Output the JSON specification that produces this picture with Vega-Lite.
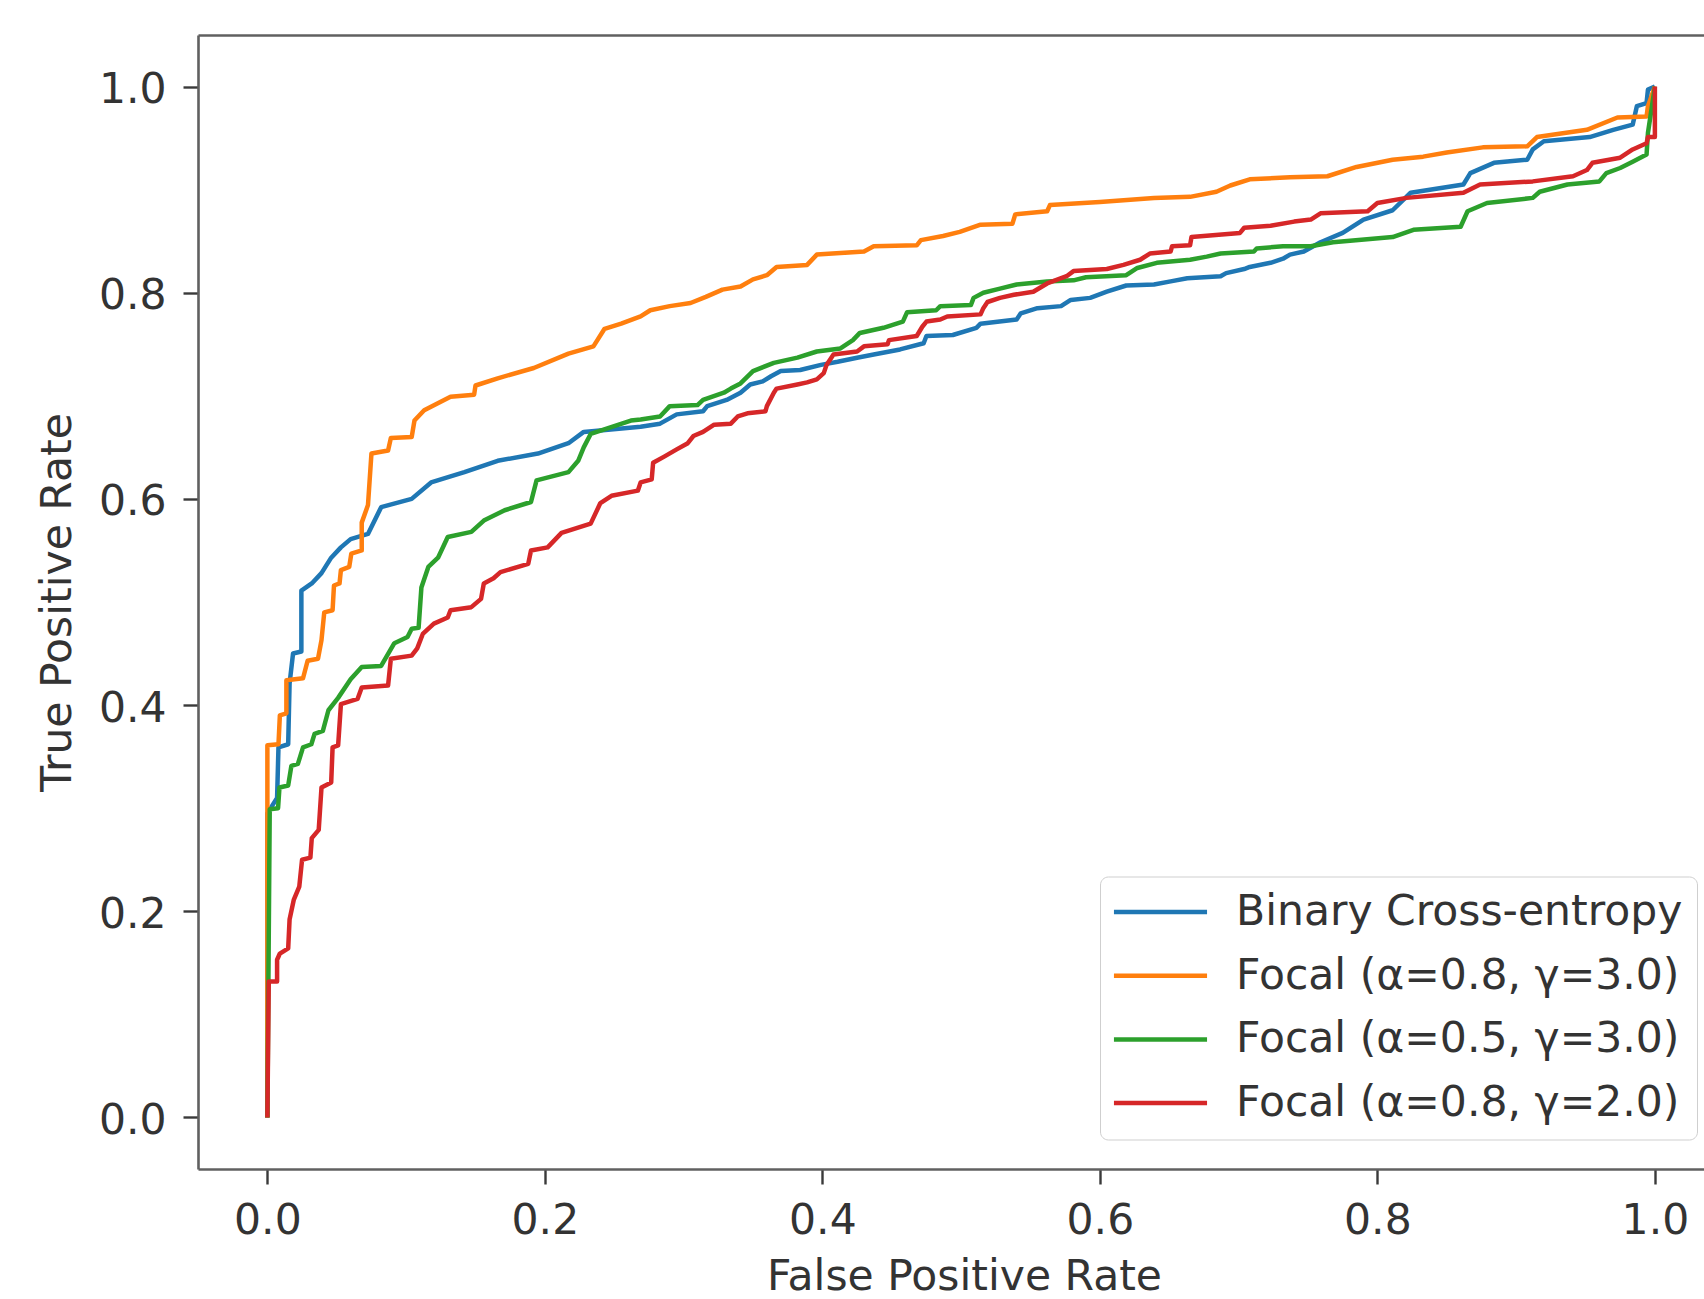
{
  "$schema": "https://vega.github.io/schema/vega-lite/v6.json",
  "autosize": {"type": "none"},
  "width": 1506,
  "height": 1134,
  "padding": {"left": 198, "top": 35, "right": 0, "bottom": 130},
  "background": "white",
  "datasets": {
    "roc": [
      {"model":"Binary Cross-entropy","fpr":0,"tpr":0},
      {"model":"Binary Cross-entropy","fpr":0,"tpr":0.295},
      {"model":"Binary Cross-entropy","fpr":0.007,"tpr":0.31},
      {"model":"Binary Cross-entropy","fpr":0.008,"tpr":0.359},
      {"model":"Binary Cross-entropy","fpr":0.015,"tpr":0.362},
      {"model":"Binary Cross-entropy","fpr":0.016,"tpr":0.421},
      {"model":"Binary Cross-entropy","fpr":0.0185,"tpr":0.45},
      {"model":"Binary Cross-entropy","fpr":0.0245,"tpr":0.452},
      {"model":"Binary Cross-entropy","fpr":0.0245,"tpr":0.511},
      {"model":"Binary Cross-entropy","fpr":0.032,"tpr":0.518},
      {"model":"Binary Cross-entropy","fpr":0.039,"tpr":0.528},
      {"model":"Binary Cross-entropy","fpr":0.046,"tpr":0.543},
      {"model":"Binary Cross-entropy","fpr":0.053,"tpr":0.553},
      {"model":"Binary Cross-entropy","fpr":0.06,"tpr":0.561},
      {"model":"Binary Cross-entropy","fpr":0.0725,"tpr":0.566},
      {"model":"Binary Cross-entropy","fpr":0.082,"tpr":0.592},
      {"model":"Binary Cross-entropy","fpr":0.104,"tpr":0.6},
      {"model":"Binary Cross-entropy","fpr":0.118,"tpr":0.616},
      {"model":"Binary Cross-entropy","fpr":0.142,"tpr":0.626},
      {"model":"Binary Cross-entropy","fpr":0.166,"tpr":0.637},
      {"model":"Binary Cross-entropy","fpr":0.195,"tpr":0.644},
      {"model":"Binary Cross-entropy","fpr":0.217,"tpr":0.654},
      {"model":"Binary Cross-entropy","fpr":0.228,"tpr":0.665},
      {"model":"Binary Cross-entropy","fpr":0.269,"tpr":0.67},
      {"model":"Binary Cross-entropy","fpr":0.283,"tpr":0.673},
      {"model":"Binary Cross-entropy","fpr":0.295,"tpr":0.682},
      {"model":"Binary Cross-entropy","fpr":0.314,"tpr":0.685},
      {"model":"Binary Cross-entropy","fpr":0.317,"tpr":0.69},
      {"model":"Binary Cross-entropy","fpr":0.331,"tpr":0.696},
      {"model":"Binary Cross-entropy","fpr":0.341,"tpr":0.703},
      {"model":"Binary Cross-entropy","fpr":0.348,"tpr":0.711},
      {"model":"Binary Cross-entropy","fpr":0.357,"tpr":0.714},
      {"model":"Binary Cross-entropy","fpr":0.363,"tpr":0.719},
      {"model":"Binary Cross-entropy","fpr":0.37,"tpr":0.724},
      {"model":"Binary Cross-entropy","fpr":0.384,"tpr":0.725},
      {"model":"Binary Cross-entropy","fpr":0.399,"tpr":0.73},
      {"model":"Binary Cross-entropy","fpr":0.411,"tpr":0.733},
      {"model":"Binary Cross-entropy","fpr":0.425,"tpr":0.737},
      {"model":"Binary Cross-entropy","fpr":0.437,"tpr":0.74},
      {"model":"Binary Cross-entropy","fpr":0.456,"tpr":0.745},
      {"model":"Binary Cross-entropy","fpr":0.473,"tpr":0.751},
      {"model":"Binary Cross-entropy","fpr":0.475,"tpr":0.758},
      {"model":"Binary Cross-entropy","fpr":0.494,"tpr":0.759},
      {"model":"Binary Cross-entropy","fpr":0.511,"tpr":0.766},
      {"model":"Binary Cross-entropy","fpr":0.514,"tpr":0.77},
      {"model":"Binary Cross-entropy","fpr":0.54,"tpr":0.774},
      {"model":"Binary Cross-entropy","fpr":0.543,"tpr":0.78},
      {"model":"Binary Cross-entropy","fpr":0.555,"tpr":0.785},
      {"model":"Binary Cross-entropy","fpr":0.572,"tpr":0.787},
      {"model":"Binary Cross-entropy","fpr":0.579,"tpr":0.793},
      {"model":"Binary Cross-entropy","fpr":0.593,"tpr":0.795},
      {"model":"Binary Cross-entropy","fpr":0.605,"tpr":0.801},
      {"model":"Binary Cross-entropy","fpr":0.619,"tpr":0.807},
      {"model":"Binary Cross-entropy","fpr":0.639,"tpr":0.808},
      {"model":"Binary Cross-entropy","fpr":0.651,"tpr":0.811},
      {"model":"Binary Cross-entropy","fpr":0.663,"tpr":0.814},
      {"model":"Binary Cross-entropy","fpr":0.687,"tpr":0.816},
      {"model":"Binary Cross-entropy","fpr":0.691,"tpr":0.819},
      {"model":"Binary Cross-entropy","fpr":0.704,"tpr":0.823},
      {"model":"Binary Cross-entropy","fpr":0.708,"tpr":0.825},
      {"model":"Binary Cross-entropy","fpr":0.723,"tpr":0.829},
      {"model":"Binary Cross-entropy","fpr":0.732,"tpr":0.833},
      {"model":"Binary Cross-entropy","fpr":0.737,"tpr":0.837},
      {"model":"Binary Cross-entropy","fpr":0.747,"tpr":0.84},
      {"model":"Binary Cross-entropy","fpr":0.759,"tpr":0.849},
      {"model":"Binary Cross-entropy","fpr":0.775,"tpr":0.858},
      {"model":"Binary Cross-entropy","fpr":0.79,"tpr":0.871},
      {"model":"Binary Cross-entropy","fpr":0.811,"tpr":0.88},
      {"model":"Binary Cross-entropy","fpr":0.824,"tpr":0.897},
      {"model":"Binary Cross-entropy","fpr":0.862,"tpr":0.905},
      {"model":"Binary Cross-entropy","fpr":0.867,"tpr":0.916},
      {"model":"Binary Cross-entropy","fpr":0.884,"tpr":0.926},
      {"model":"Binary Cross-entropy","fpr":0.908,"tpr":0.929},
      {"model":"Binary Cross-entropy","fpr":0.912,"tpr":0.939},
      {"model":"Binary Cross-entropy","fpr":0.92,"tpr":0.947},
      {"model":"Binary Cross-entropy","fpr":0.953,"tpr":0.951},
      {"model":"Binary Cross-entropy","fpr":0.97,"tpr":0.958},
      {"model":"Binary Cross-entropy","fpr":0.984,"tpr":0.963},
      {"model":"Binary Cross-entropy","fpr":0.987,"tpr":0.981},
      {"model":"Binary Cross-entropy","fpr":0.994,"tpr":0.984},
      {"model":"Binary Cross-entropy","fpr":0.995,"tpr":0.997},
      {"model":"Binary Cross-entropy","fpr":1,"tpr":1},

      {"model":"Focal (α=0.8, γ=3.0)","fpr":0,"tpr":0},
      {"model":"Focal (α=0.8, γ=3.0)","fpr":0,"tpr":0.361},
      {"model":"Focal (α=0.8, γ=3.0)","fpr":0.008,"tpr":0.362},
      {"model":"Focal (α=0.8, γ=3.0)","fpr":0.009,"tpr":0.39},
      {"model":"Focal (α=0.8, γ=3.0)","fpr":0.0137,"tpr":0.392},
      {"model":"Focal (α=0.8, γ=3.0)","fpr":0.0137,"tpr":0.424},
      {"model":"Focal (α=0.8, γ=3.0)","fpr":0.0257,"tpr":0.426},
      {"model":"Focal (α=0.8, γ=3.0)","fpr":0.029,"tpr":0.443},
      {"model":"Focal (α=0.8, γ=3.0)","fpr":0.0365,"tpr":0.445},
      {"model":"Focal (α=0.8, γ=3.0)","fpr":0.039,"tpr":0.463},
      {"model":"Focal (α=0.8, γ=3.0)","fpr":0.041,"tpr":0.49},
      {"model":"Focal (α=0.8, γ=3.0)","fpr":0.047,"tpr":0.492},
      {"model":"Focal (α=0.8, γ=3.0)","fpr":0.048,"tpr":0.516},
      {"model":"Focal (α=0.8, γ=3.0)","fpr":0.052,"tpr":0.518},
      {"model":"Focal (α=0.8, γ=3.0)","fpr":0.053,"tpr":0.531},
      {"model":"Focal (α=0.8, γ=3.0)","fpr":0.059,"tpr":0.534},
      {"model":"Focal (α=0.8, γ=3.0)","fpr":0.0605,"tpr":0.547},
      {"model":"Focal (α=0.8, γ=3.0)","fpr":0.068,"tpr":0.55},
      {"model":"Focal (α=0.8, γ=3.0)","fpr":0.068,"tpr":0.577},
      {"model":"Focal (α=0.8, γ=3.0)","fpr":0.0725,"tpr":0.594},
      {"model":"Focal (α=0.8, γ=3.0)","fpr":0.075,"tpr":0.644},
      {"model":"Focal (α=0.8, γ=3.0)","fpr":0.087,"tpr":0.647},
      {"model":"Focal (α=0.8, γ=3.0)","fpr":0.089,"tpr":0.659},
      {"model":"Focal (α=0.8, γ=3.0)","fpr":0.104,"tpr":0.66},
      {"model":"Focal (α=0.8, γ=3.0)","fpr":0.106,"tpr":0.676},
      {"model":"Focal (α=0.8, γ=3.0)","fpr":0.113,"tpr":0.686},
      {"model":"Focal (α=0.8, γ=3.0)","fpr":0.132,"tpr":0.699},
      {"model":"Focal (α=0.8, γ=3.0)","fpr":0.149,"tpr":0.701},
      {"model":"Focal (α=0.8, γ=3.0)","fpr":0.15,"tpr":0.71},
      {"model":"Focal (α=0.8, γ=3.0)","fpr":0.166,"tpr":0.717},
      {"model":"Focal (α=0.8, γ=3.0)","fpr":0.192,"tpr":0.727},
      {"model":"Focal (α=0.8, γ=3.0)","fpr":0.217,"tpr":0.741},
      {"model":"Focal (α=0.8, γ=3.0)","fpr":0.235,"tpr":0.748},
      {"model":"Focal (α=0.8, γ=3.0)","fpr":0.243,"tpr":0.765},
      {"model":"Focal (α=0.8, γ=3.0)","fpr":0.255,"tpr":0.77},
      {"model":"Focal (α=0.8, γ=3.0)","fpr":0.269,"tpr":0.777},
      {"model":"Focal (α=0.8, γ=3.0)","fpr":0.276,"tpr":0.783},
      {"model":"Focal (α=0.8, γ=3.0)","fpr":0.29,"tpr":0.787},
      {"model":"Focal (α=0.8, γ=3.0)","fpr":0.305,"tpr":0.79},
      {"model":"Focal (α=0.8, γ=3.0)","fpr":0.316,"tpr":0.796},
      {"model":"Focal (α=0.8, γ=3.0)","fpr":0.328,"tpr":0.803},
      {"model":"Focal (α=0.8, γ=3.0)","fpr":0.341,"tpr":0.806},
      {"model":"Focal (α=0.8, γ=3.0)","fpr":0.35,"tpr":0.813},
      {"model":"Focal (α=0.8, γ=3.0)","fpr":0.36,"tpr":0.817},
      {"model":"Focal (α=0.8, γ=3.0)","fpr":0.367,"tpr":0.825},
      {"model":"Focal (α=0.8, γ=3.0)","fpr":0.389,"tpr":0.827},
      {"model":"Focal (α=0.8, γ=3.0)","fpr":0.396,"tpr":0.837},
      {"model":"Focal (α=0.8, γ=3.0)","fpr":0.43,"tpr":0.84},
      {"model":"Focal (α=0.8, γ=3.0)","fpr":0.437,"tpr":0.845},
      {"model":"Focal (α=0.8, γ=3.0)","fpr":0.468,"tpr":0.846},
      {"model":"Focal (α=0.8, γ=3.0)","fpr":0.471,"tpr":0.851},
      {"model":"Focal (α=0.8, γ=3.0)","fpr":0.487,"tpr":0.855},
      {"model":"Focal (α=0.8, γ=3.0)","fpr":0.499,"tpr":0.859},
      {"model":"Focal (α=0.8, γ=3.0)","fpr":0.514,"tpr":0.866},
      {"model":"Focal (α=0.8, γ=3.0)","fpr":0.537,"tpr":0.867},
      {"model":"Focal (α=0.8, γ=3.0)","fpr":0.539,"tpr":0.876},
      {"model":"Focal (α=0.8, γ=3.0)","fpr":0.562,"tpr":0.879},
      {"model":"Focal (α=0.8, γ=3.0)","fpr":0.564,"tpr":0.885},
      {"model":"Focal (α=0.8, γ=3.0)","fpr":0.6,"tpr":0.888},
      {"model":"Focal (α=0.8, γ=3.0)","fpr":0.639,"tpr":0.892},
      {"model":"Focal (α=0.8, γ=3.0)","fpr":0.665,"tpr":0.893},
      {"model":"Focal (α=0.8, γ=3.0)","fpr":0.684,"tpr":0.898},
      {"model":"Focal (α=0.8, γ=3.0)","fpr":0.694,"tpr":0.904},
      {"model":"Focal (α=0.8, γ=3.0)","fpr":0.708,"tpr":0.91},
      {"model":"Focal (α=0.8, γ=3.0)","fpr":0.737,"tpr":0.912},
      {"model":"Focal (α=0.8, γ=3.0)","fpr":0.764,"tpr":0.913},
      {"model":"Focal (α=0.8, γ=3.0)","fpr":0.785,"tpr":0.922},
      {"model":"Focal (α=0.8, γ=3.0)","fpr":0.811,"tpr":0.929},
      {"model":"Focal (α=0.8, γ=3.0)","fpr":0.833,"tpr":0.932},
      {"model":"Focal (α=0.8, γ=3.0)","fpr":0.85,"tpr":0.936},
      {"model":"Focal (α=0.8, γ=3.0)","fpr":0.876,"tpr":0.941},
      {"model":"Focal (α=0.8, γ=3.0)","fpr":0.908,"tpr":0.942},
      {"model":"Focal (α=0.8, γ=3.0)","fpr":0.915,"tpr":0.951},
      {"model":"Focal (α=0.8, γ=3.0)","fpr":0.951,"tpr":0.958},
      {"model":"Focal (α=0.8, γ=3.0)","fpr":0.973,"tpr":0.97},
      {"model":"Focal (α=0.8, γ=3.0)","fpr":0.994,"tpr":0.971},
      {"model":"Focal (α=0.8, γ=3.0)","fpr":0.995,"tpr":0.981},
      {"model":"Focal (α=0.8, γ=3.0)","fpr":1,"tpr":1},

      {"model":"Focal (α=0.5, γ=3.0)","fpr":0,"tpr":0},
      {"model":"Focal (α=0.5, γ=3.0)","fpr":0.0017,"tpr":0.299},
      {"model":"Focal (α=0.5, γ=3.0)","fpr":0.0077,"tpr":0.3},
      {"model":"Focal (α=0.5, γ=3.0)","fpr":0.0087,"tpr":0.32},
      {"model":"Focal (α=0.5, γ=3.0)","fpr":0.015,"tpr":0.322},
      {"model":"Focal (α=0.5, γ=3.0)","fpr":0.0173,"tpr":0.341},
      {"model":"Focal (α=0.5, γ=3.0)","fpr":0.022,"tpr":0.343},
      {"model":"Focal (α=0.5, γ=3.0)","fpr":0.0257,"tpr":0.359},
      {"model":"Focal (α=0.5, γ=3.0)","fpr":0.0317,"tpr":0.362},
      {"model":"Focal (α=0.5, γ=3.0)","fpr":0.034,"tpr":0.372},
      {"model":"Focal (α=0.5, γ=3.0)","fpr":0.04,"tpr":0.375},
      {"model":"Focal (α=0.5, γ=3.0)","fpr":0.044,"tpr":0.395},
      {"model":"Focal (α=0.5, γ=3.0)","fpr":0.051,"tpr":0.407},
      {"model":"Focal (α=0.5, γ=3.0)","fpr":0.06,"tpr":0.425},
      {"model":"Focal (α=0.5, γ=3.0)","fpr":0.068,"tpr":0.437},
      {"model":"Focal (α=0.5, γ=3.0)","fpr":0.082,"tpr":0.438},
      {"model":"Focal (α=0.5, γ=3.0)","fpr":0.0915,"tpr":0.46},
      {"model":"Focal (α=0.5, γ=3.0)","fpr":0.101,"tpr":0.466},
      {"model":"Focal (α=0.5, γ=3.0)","fpr":0.104,"tpr":0.474},
      {"model":"Focal (α=0.5, γ=3.0)","fpr":0.109,"tpr":0.475},
      {"model":"Focal (α=0.5, γ=3.0)","fpr":0.111,"tpr":0.514},
      {"model":"Focal (α=0.5, γ=3.0)","fpr":0.116,"tpr":0.534},
      {"model":"Focal (α=0.5, γ=3.0)","fpr":0.123,"tpr":0.543},
      {"model":"Focal (α=0.5, γ=3.0)","fpr":0.13,"tpr":0.563},
      {"model":"Focal (α=0.5, γ=3.0)","fpr":0.147,"tpr":0.568},
      {"model":"Focal (α=0.5, γ=3.0)","fpr":0.156,"tpr":0.579},
      {"model":"Focal (α=0.5, γ=3.0)","fpr":0.171,"tpr":0.589},
      {"model":"Focal (α=0.5, γ=3.0)","fpr":0.19,"tpr":0.597},
      {"model":"Focal (α=0.5, γ=3.0)","fpr":0.194,"tpr":0.618},
      {"model":"Focal (α=0.5, γ=3.0)","fpr":0.217,"tpr":0.626},
      {"model":"Focal (α=0.5, γ=3.0)","fpr":0.224,"tpr":0.637},
      {"model":"Focal (α=0.5, γ=3.0)","fpr":0.228,"tpr":0.65},
      {"model":"Focal (α=0.5, γ=3.0)","fpr":0.233,"tpr":0.663},
      {"model":"Focal (α=0.5, γ=3.0)","fpr":0.262,"tpr":0.676},
      {"model":"Focal (α=0.5, γ=3.0)","fpr":0.269,"tpr":0.677},
      {"model":"Focal (α=0.5, γ=3.0)","fpr":0.283,"tpr":0.68},
      {"model":"Focal (α=0.5, γ=3.0)","fpr":0.29,"tpr":0.69},
      {"model":"Focal (α=0.5, γ=3.0)","fpr":0.31,"tpr":0.691},
      {"model":"Focal (α=0.5, γ=3.0)","fpr":0.314,"tpr":0.696},
      {"model":"Focal (α=0.5, γ=3.0)","fpr":0.329,"tpr":0.703},
      {"model":"Focal (α=0.5, γ=3.0)","fpr":0.334,"tpr":0.707},
      {"model":"Focal (α=0.5, γ=3.0)","fpr":0.341,"tpr":0.712},
      {"model":"Focal (α=0.5, γ=3.0)","fpr":0.35,"tpr":0.724},
      {"model":"Focal (α=0.5, γ=3.0)","fpr":0.365,"tpr":0.732},
      {"model":"Focal (α=0.5, γ=3.0)","fpr":0.382,"tpr":0.737},
      {"model":"Focal (α=0.5, γ=3.0)","fpr":0.396,"tpr":0.743},
      {"model":"Focal (α=0.5, γ=3.0)","fpr":0.413,"tpr":0.746},
      {"model":"Focal (α=0.5, γ=3.0)","fpr":0.422,"tpr":0.754},
      {"model":"Focal (α=0.5, γ=3.0)","fpr":0.427,"tpr":0.761},
      {"model":"Focal (α=0.5, γ=3.0)","fpr":0.444,"tpr":0.766},
      {"model":"Focal (α=0.5, γ=3.0)","fpr":0.458,"tpr":0.772},
      {"model":"Focal (α=0.5, γ=3.0)","fpr":0.461,"tpr":0.781},
      {"model":"Focal (α=0.5, γ=3.0)","fpr":0.482,"tpr":0.783},
      {"model":"Focal (α=0.5, γ=3.0)","fpr":0.485,"tpr":0.787},
      {"model":"Focal (α=0.5, γ=3.0)","fpr":0.507,"tpr":0.788},
      {"model":"Focal (α=0.5, γ=3.0)","fpr":0.509,"tpr":0.795},
      {"model":"Focal (α=0.5, γ=3.0)","fpr":0.516,"tpr":0.8},
      {"model":"Focal (α=0.5, γ=3.0)","fpr":0.528,"tpr":0.804},
      {"model":"Focal (α=0.5, γ=3.0)","fpr":0.54,"tpr":0.808},
      {"model":"Focal (α=0.5, γ=3.0)","fpr":0.562,"tpr":0.811},
      {"model":"Focal (α=0.5, γ=3.0)","fpr":0.581,"tpr":0.812},
      {"model":"Focal (α=0.5, γ=3.0)","fpr":0.59,"tpr":0.815},
      {"model":"Focal (α=0.5, γ=3.0)","fpr":0.619,"tpr":0.817},
      {"model":"Focal (α=0.5, γ=3.0)","fpr":0.627,"tpr":0.824},
      {"model":"Focal (α=0.5, γ=3.0)","fpr":0.641,"tpr":0.829},
      {"model":"Focal (α=0.5, γ=3.0)","fpr":0.665,"tpr":0.832},
      {"model":"Focal (α=0.5, γ=3.0)","fpr":0.677,"tpr":0.835},
      {"model":"Focal (α=0.5, γ=3.0)","fpr":0.687,"tpr":0.838},
      {"model":"Focal (α=0.5, γ=3.0)","fpr":0.711,"tpr":0.84},
      {"model":"Focal (α=0.5, γ=3.0)","fpr":0.713,"tpr":0.843},
      {"model":"Focal (α=0.5, γ=3.0)","fpr":0.732,"tpr":0.845},
      {"model":"Focal (α=0.5, γ=3.0)","fpr":0.752,"tpr":0.845},
      {"model":"Focal (α=0.5, γ=3.0)","fpr":0.768,"tpr":0.849},
      {"model":"Focal (α=0.5, γ=3.0)","fpr":0.811,"tpr":0.854},
      {"model":"Focal (α=0.5, γ=3.0)","fpr":0.826,"tpr":0.861},
      {"model":"Focal (α=0.5, γ=3.0)","fpr":0.86,"tpr":0.864},
      {"model":"Focal (α=0.5, γ=3.0)","fpr":0.865,"tpr":0.879},
      {"model":"Focal (α=0.5, γ=3.0)","fpr":0.879,"tpr":0.887},
      {"model":"Focal (α=0.5, γ=3.0)","fpr":0.912,"tpr":0.892},
      {"model":"Focal (α=0.5, γ=3.0)","fpr":0.917,"tpr":0.898},
      {"model":"Focal (α=0.5, γ=3.0)","fpr":0.937,"tpr":0.905},
      {"model":"Focal (α=0.5, γ=3.0)","fpr":0.96,"tpr":0.908},
      {"model":"Focal (α=0.5, γ=3.0)","fpr":0.965,"tpr":0.916},
      {"model":"Focal (α=0.5, γ=3.0)","fpr":0.975,"tpr":0.921},
      {"model":"Focal (α=0.5, γ=3.0)","fpr":0.984,"tpr":0.927},
      {"model":"Focal (α=0.5, γ=3.0)","fpr":0.994,"tpr":0.934},
      {"model":"Focal (α=0.5, γ=3.0)","fpr":0.995,"tpr":0.955},
      {"model":"Focal (α=0.5, γ=3.0)","fpr":1,"tpr":1},

      {"model":"Focal (α=0.8, γ=2.0)","fpr":0,"tpr":0},
      {"model":"Focal (α=0.8, γ=2.0)","fpr":0.001,"tpr":0.132},
      {"model":"Focal (α=0.8, γ=2.0)","fpr":0.007,"tpr":0.132},
      {"model":"Focal (α=0.8, γ=2.0)","fpr":0.007,"tpr":0.153},
      {"model":"Focal (α=0.8, γ=2.0)","fpr":0.009,"tpr":0.159},
      {"model":"Focal (α=0.8, γ=2.0)","fpr":0.015,"tpr":0.164},
      {"model":"Focal (α=0.8, γ=2.0)","fpr":0.016,"tpr":0.192},
      {"model":"Focal (α=0.8, γ=2.0)","fpr":0.019,"tpr":0.211},
      {"model":"Focal (α=0.8, γ=2.0)","fpr":0.023,"tpr":0.224},
      {"model":"Focal (α=0.8, γ=2.0)","fpr":0.025,"tpr":0.25},
      {"model":"Focal (α=0.8, γ=2.0)","fpr":0.031,"tpr":0.252},
      {"model":"Focal (α=0.8, γ=2.0)","fpr":0.032,"tpr":0.271},
      {"model":"Focal (α=0.8, γ=2.0)","fpr":0.037,"tpr":0.279},
      {"model":"Focal (α=0.8, γ=2.0)","fpr":0.039,"tpr":0.32},
      {"model":"Focal (α=0.8, γ=2.0)","fpr":0.046,"tpr":0.325},
      {"model":"Focal (α=0.8, γ=2.0)","fpr":0.047,"tpr":0.359},
      {"model":"Focal (α=0.8, γ=2.0)","fpr":0.051,"tpr":0.361},
      {"model":"Focal (α=0.8, γ=2.0)","fpr":0.053,"tpr":0.401},
      {"model":"Focal (α=0.8, γ=2.0)","fpr":0.065,"tpr":0.406},
      {"model":"Focal (α=0.8, γ=2.0)","fpr":0.068,"tpr":0.417},
      {"model":"Focal (α=0.8, γ=2.0)","fpr":0.087,"tpr":0.419},
      {"model":"Focal (α=0.8, γ=2.0)","fpr":0.089,"tpr":0.445},
      {"model":"Focal (α=0.8, γ=2.0)","fpr":0.104,"tpr":0.448},
      {"model":"Focal (α=0.8, γ=2.0)","fpr":0.108,"tpr":0.455},
      {"model":"Focal (α=0.8, γ=2.0)","fpr":0.112,"tpr":0.469},
      {"model":"Focal (α=0.8, γ=2.0)","fpr":0.12,"tpr":0.479},
      {"model":"Focal (α=0.8, γ=2.0)","fpr":0.13,"tpr":0.485},
      {"model":"Focal (α=0.8, γ=2.0)","fpr":0.132,"tpr":0.492},
      {"model":"Focal (α=0.8, γ=2.0)","fpr":0.147,"tpr":0.495},
      {"model":"Focal (α=0.8, γ=2.0)","fpr":0.154,"tpr":0.503},
      {"model":"Focal (α=0.8, γ=2.0)","fpr":0.156,"tpr":0.518},
      {"model":"Focal (α=0.8, γ=2.0)","fpr":0.163,"tpr":0.523},
      {"model":"Focal (α=0.8, γ=2.0)","fpr":0.168,"tpr":0.529},
      {"model":"Focal (α=0.8, γ=2.0)","fpr":0.188,"tpr":0.537},
      {"model":"Focal (α=0.8, γ=2.0)","fpr":0.19,"tpr":0.55},
      {"model":"Focal (α=0.8, γ=2.0)","fpr":0.202,"tpr":0.553},
      {"model":"Focal (α=0.8, γ=2.0)","fpr":0.212,"tpr":0.567},
      {"model":"Focal (α=0.8, γ=2.0)","fpr":0.233,"tpr":0.576},
      {"model":"Focal (α=0.8, γ=2.0)","fpr":0.24,"tpr":0.596},
      {"model":"Focal (α=0.8, γ=2.0)","fpr":0.248,"tpr":0.603},
      {"model":"Focal (α=0.8, γ=2.0)","fpr":0.267,"tpr":0.608},
      {"model":"Focal (α=0.8, γ=2.0)","fpr":0.269,"tpr":0.616},
      {"model":"Focal (α=0.8, γ=2.0)","fpr":0.277,"tpr":0.619},
      {"model":"Focal (α=0.8, γ=2.0)","fpr":0.278,"tpr":0.635},
      {"model":"Focal (α=0.8, γ=2.0)","fpr":0.286,"tpr":0.641},
      {"model":"Focal (α=0.8, γ=2.0)","fpr":0.295,"tpr":0.648},
      {"model":"Focal (α=0.8, γ=2.0)","fpr":0.303,"tpr":0.654},
      {"model":"Focal (α=0.8, γ=2.0)","fpr":0.307,"tpr":0.661},
      {"model":"Focal (α=0.8, γ=2.0)","fpr":0.314,"tpr":0.665},
      {"model":"Focal (α=0.8, γ=2.0)","fpr":0.322,"tpr":0.672},
      {"model":"Focal (α=0.8, γ=2.0)","fpr":0.334,"tpr":0.673},
      {"model":"Focal (α=0.8, γ=2.0)","fpr":0.339,"tpr":0.68},
      {"model":"Focal (α=0.8, γ=2.0)","fpr":0.346,"tpr":0.683},
      {"model":"Focal (α=0.8, γ=2.0)","fpr":0.359,"tpr":0.685},
      {"model":"Focal (α=0.8, γ=2.0)","fpr":0.36,"tpr":0.69},
      {"model":"Focal (α=0.8, γ=2.0)","fpr":0.365,"tpr":0.703},
      {"model":"Focal (α=0.8, γ=2.0)","fpr":0.367,"tpr":0.707},
      {"model":"Focal (α=0.8, γ=2.0)","fpr":0.382,"tpr":0.711},
      {"model":"Focal (α=0.8, γ=2.0)","fpr":0.389,"tpr":0.713},
      {"model":"Focal (α=0.8, γ=2.0)","fpr":0.396,"tpr":0.716},
      {"model":"Focal (α=0.8, γ=2.0)","fpr":0.401,"tpr":0.722},
      {"model":"Focal (α=0.8, γ=2.0)","fpr":0.403,"tpr":0.73},
      {"model":"Focal (α=0.8, γ=2.0)","fpr":0.408,"tpr":0.74},
      {"model":"Focal (α=0.8, γ=2.0)","fpr":0.425,"tpr":0.743},
      {"model":"Focal (α=0.8, γ=2.0)","fpr":0.43,"tpr":0.748},
      {"model":"Focal (α=0.8, γ=2.0)","fpr":0.447,"tpr":0.75},
      {"model":"Focal (α=0.8, γ=2.0)","fpr":0.448,"tpr":0.754},
      {"model":"Focal (α=0.8, γ=2.0)","fpr":0.468,"tpr":0.758},
      {"model":"Focal (α=0.8, γ=2.0)","fpr":0.472,"tpr":0.767},
      {"model":"Focal (α=0.8, γ=2.0)","fpr":0.475,"tpr":0.772},
      {"model":"Focal (α=0.8, γ=2.0)","fpr":0.485,"tpr":0.774},
      {"model":"Focal (α=0.8, γ=2.0)","fpr":0.49,"tpr":0.777},
      {"model":"Focal (α=0.8, γ=2.0)","fpr":0.514,"tpr":0.779},
      {"model":"Focal (α=0.8, γ=2.0)","fpr":0.516,"tpr":0.785},
      {"model":"Focal (α=0.8, γ=2.0)","fpr":0.519,"tpr":0.791},
      {"model":"Focal (α=0.8, γ=2.0)","fpr":0.528,"tpr":0.795},
      {"model":"Focal (α=0.8, γ=2.0)","fpr":0.538,"tpr":0.798},
      {"model":"Focal (α=0.8, γ=2.0)","fpr":0.552,"tpr":0.801},
      {"model":"Focal (α=0.8, γ=2.0)","fpr":0.562,"tpr":0.809},
      {"model":"Focal (α=0.8, γ=2.0)","fpr":0.576,"tpr":0.816},
      {"model":"Focal (α=0.8, γ=2.0)","fpr":0.581,"tpr":0.821},
      {"model":"Focal (α=0.8, γ=2.0)","fpr":0.605,"tpr":0.823},
      {"model":"Focal (α=0.8, γ=2.0)","fpr":0.617,"tpr":0.827},
      {"model":"Focal (α=0.8, γ=2.0)","fpr":0.629,"tpr":0.832},
      {"model":"Focal (α=0.8, γ=2.0)","fpr":0.636,"tpr":0.838},
      {"model":"Focal (α=0.8, γ=2.0)","fpr":0.651,"tpr":0.84},
      {"model":"Focal (α=0.8, γ=2.0)","fpr":0.652,"tpr":0.845},
      {"model":"Focal (α=0.8, γ=2.0)","fpr":0.665,"tpr":0.846},
      {"model":"Focal (α=0.8, γ=2.0)","fpr":0.666,"tpr":0.854},
      {"model":"Focal (α=0.8, γ=2.0)","fpr":0.701,"tpr":0.858},
      {"model":"Focal (α=0.8, γ=2.0)","fpr":0.704,"tpr":0.863},
      {"model":"Focal (α=0.8, γ=2.0)","fpr":0.723,"tpr":0.865},
      {"model":"Focal (α=0.8, γ=2.0)","fpr":0.74,"tpr":0.869},
      {"model":"Focal (α=0.8, γ=2.0)","fpr":0.752,"tpr":0.871},
      {"model":"Focal (α=0.8, γ=2.0)","fpr":0.759,"tpr":0.877},
      {"model":"Focal (α=0.8, γ=2.0)","fpr":0.793,"tpr":0.879},
      {"model":"Focal (α=0.8, γ=2.0)","fpr":0.8,"tpr":0.887},
      {"model":"Focal (α=0.8, γ=2.0)","fpr":0.821,"tpr":0.892},
      {"model":"Focal (α=0.8, γ=2.0)","fpr":0.862,"tpr":0.897},
      {"model":"Focal (α=0.8, γ=2.0)","fpr":0.874,"tpr":0.905},
      {"model":"Focal (α=0.8, γ=2.0)","fpr":0.912,"tpr":0.908},
      {"model":"Focal (α=0.8, γ=2.0)","fpr":0.941,"tpr":0.913},
      {"model":"Focal (α=0.8, γ=2.0)","fpr":0.951,"tpr":0.919},
      {"model":"Focal (α=0.8, γ=2.0)","fpr":0.955,"tpr":0.926},
      {"model":"Focal (α=0.8, γ=2.0)","fpr":0.975,"tpr":0.931},
      {"model":"Focal (α=0.8, γ=2.0)","fpr":0.984,"tpr":0.939},
      {"model":"Focal (α=0.8, γ=2.0)","fpr":0.994,"tpr":0.945},
      {"model":"Focal (α=0.8, γ=2.0)","fpr":0.995,"tpr":0.951},
      {"model":"Focal (α=0.8, γ=2.0)","fpr":1,"tpr":0.951},
      {"model":"Focal (α=0.8, γ=2.0)","fpr":1,"tpr":1}
    ]
  },
  "data": {"name": "roc"},
  "layer": [
    {
      "mark": {"type": "line", "strokeWidth": 4.5, "strokeJoin": "round", "clip": true},
      "encoding": {
        "x": {
          "field": "fpr", "type": "quantitative",
          "scale": {"domain": [-0.05, 1.0354], "nice": false, "zero": false},
          "axis": {
            "orient": "bottom",
            "values": [0, 0.2, 0.4, 0.6, 0.8, 1.0],
            "format": ".1f",
            "labelPadding": 15.5,
            "title": "False Positive Rate",
            "titleX": 766,
            "titleY": 120,
            "titleBaseline": "alphabetic",
            "titleAlign": "center"
          }
        },
        "y": {
          "field": "tpr", "type": "quantitative",
          "scale": {"domain": [-0.05, 1.05], "nice": false, "zero": false},
          "axis": {
            "orient": "left",
            "values": [0, 0.2, 0.4, 0.6, 0.8, 1.0],
            "format": ".1f",
            "labelPadding": 17,
            "labelOffset": 3,
            "title": "True Positive Rate",
            "titleX": -128,
            "titleY": 567,
            "titleAngle": 270,
            "titleBaseline": "alphabetic",
            "titleAlign": "center"
          }
        },
        "color": {
          "field": "model", "type": "nominal",
          "scale": {
            "domain": ["Binary Cross-entropy", "Focal (α=0.8, γ=3.0)", "Focal (α=0.5, γ=3.0)", "Focal (α=0.8, γ=2.0)"],
            "range": ["#1f77b4", "#ff7f0e", "#2ca02c", "#d62728"]
          },
          "legend": {
            "title": null,
            "orient": "none",
            "legendX": 902,
            "legendY": 841.5,
            "padding": 14,
            "strokeColor": "#cfcfcf",
            "cornerRadius": 8,
            "fillColor": "#ffffff",
            "symbolType": "M-2.45,0H2.45",
            "symbolSize": 1444,
            "symbolStrokeWidth": 4.5,
            "symbolOffset": 25,
            "labelFont": "DejaVu Sans",
            "labelFontSize": 42.5,
            "labelColor": "#333333",
            "labelOffset": 54,
            "labelLimit": 0,
            "rowPadding": 20.7
          }
        },
        "order": {"value": null}
      }
    },
    {
      "mark": {"type": "line", "opacity": 0},
      "encoding": {
        "x": {
          "field": "fpr", "type": "quantitative",
          "scale": {"domain": [-0.05, 1.0354], "nice": false, "zero": false},
          "axis": {"orient": "top", "labels": false, "ticks": false, "domain": true, "title": null, "grid": false}
        },
        "y": {
          "field": "tpr", "type": "quantitative",
          "scale": {"domain": [-0.05, 1.05], "nice": false, "zero": false},
          "axis": null
        }
      }
    }
  ],
  "resolve": {"axis": {"x": "independent", "y": "independent"}},
  "config": {
    "font": "DejaVu Sans",
    "view": {"stroke": null},
    "axis": {
      "grid": false,
      "domainColor": "#606060",
      "domainWidth": 2.6,
      "tickColor": "#3a3a3a",
      "tickWidth": 2.4,
      "tickSize": 15,
      "labelFont": "DejaVu Sans",
      "labelFontSize": 42.5,
      "labelColor": "#333333",
      "titleFont": "DejaVu Sans",
      "titleFontSize": 42.5,
      "titleFontWeight": "normal",
      "titleColor": "#333333"
    }
  }
}
